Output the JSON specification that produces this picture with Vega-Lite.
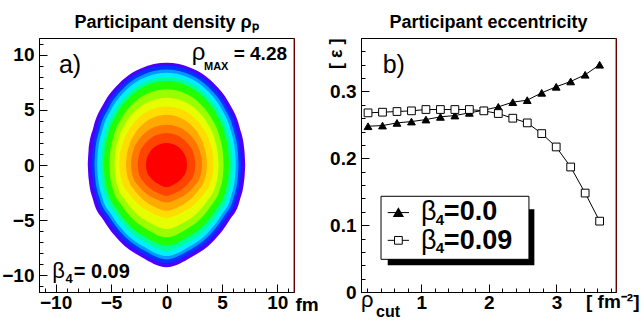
{
  "$schema": "https://vega.github.io/schema/vega-lite/v6.json",
  "background": "white",
  "padding": {"left": 1, "top": 13, "right": 0, "bottom": 0},
  "bounds": "flush",
  "spacing": 67,
  "config": {
    "font": "Liberation Sans",
    "view": {"stroke": "black", "strokeWidth": 1},
    "axis": {"domainColor": "black", "domainWidth": 1, "tickColor": "black", "tickWidth": 1, "labelColor": "black", "labelFont": "Liberation Sans", "labelFontSize": 19, "labelFontWeight": "bold", "grid": false, "titleFont": "Liberation Sans", "titleFontSize": 19, "titleFontWeight": "bold", "titleColor": "black", "labelFlush": false, "labelBound": false},
    "title": {"font": "Liberation Sans", "fontSize": 18, "fontWeight": "bold", "color": "black", "anchor": "middle", "offset": 6}
  },
  "datasets": {
    "contour": [
      {"level":1,"x":-7.1,"top":0,"bottom":0},{"level":1,"x":-7.03,"top":1.3,"bottom":-1.2},{"level":1,"x":-6.6,"top":3.4,"bottom":-3.24},{"level":1,"x":-5.68,"top":5.55,"bottom":-5.0},{"level":1,"x":-4.26,"top":7.4,"bottom":-6.85},{"level":1,"x":-2.27,"top":8.76,"bottom":-8.33},{"level":1,"x":0,"top":9.25,"bottom":-9.25},{"level":1,"x":2.27,"top":8.76,"bottom":-8.33},{"level":1,"x":4.26,"top":7.4,"bottom":-6.85},{"level":1,"x":5.68,"top":5.55,"bottom":-5.0},{"level":1,"x":6.6,"top":3.4,"bottom":-3.24},{"level":1,"x":7.03,"top":1.3,"bottom":-1.2},{"level":1,"x":7.1,"top":0,"bottom":0},
      {"level":2,"x":-6.75,"top":0,"bottom":0},{"level":2,"x":-6.68,"top":1.27,"bottom":-1.16},{"level":2,"x":-6.28,"top":3.31,"bottom":-3.12},{"level":2,"x":-5.4,"top":5.4,"bottom":-4.81},{"level":2,"x":-4.05,"top":7.2,"bottom":-6.59},{"level":2,"x":-2.16,"top":8.52,"bottom":-8.01},{"level":2,"x":0,"top":9.0,"bottom":-8.9},{"level":2,"x":2.16,"top":8.52,"bottom":-8.01},{"level":2,"x":4.05,"top":7.2,"bottom":-6.59},{"level":2,"x":5.4,"top":5.4,"bottom":-4.81},{"level":2,"x":6.28,"top":3.31,"bottom":-3.12},{"level":2,"x":6.68,"top":1.27,"bottom":-1.16},{"level":2,"x":6.75,"top":0,"bottom":0},
      {"level":3,"x":-6.5,"top":0,"bottom":0},{"level":3,"x":-6.44,"top":1.22,"bottom":-1.11},{"level":3,"x":-6.05,"top":3.18,"bottom":-2.99},{"level":3,"x":-5.2,"top":5.19,"bottom":-4.62},{"level":3,"x":-3.9,"top":6.92,"bottom":-6.33},{"level":3,"x":-2.08,"top":8.19,"bottom":-7.7},{"level":3,"x":0,"top":8.65,"bottom":-8.55},{"level":3,"x":2.08,"top":8.19,"bottom":-7.7},{"level":3,"x":3.9,"top":6.92,"bottom":-6.33},{"level":3,"x":5.2,"top":5.19,"bottom":-4.62},{"level":3,"x":6.05,"top":3.18,"bottom":-2.99},{"level":3,"x":6.44,"top":1.22,"bottom":-1.11},{"level":3,"x":6.5,"top":0,"bottom":0},
      {"level":4,"x":-6.25,"top":0,"bottom":0},{"level":4,"x":-6.19,"top":1.18,"bottom":-1.07},{"level":4,"x":-5.81,"top":3.07,"bottom":-2.89},{"level":4,"x":-5.0,"top":5.01,"bottom":-4.46},{"level":4,"x":-3.75,"top":6.68,"bottom":-6.11},{"level":4,"x":-2.0,"top":7.91,"bottom":-7.43},{"level":4,"x":0,"top":8.35,"bottom":-8.25},{"level":4,"x":2.0,"top":7.91,"bottom":-7.43},{"level":4,"x":3.75,"top":6.68,"bottom":-6.11},{"level":4,"x":5.0,"top":5.01,"bottom":-4.46},{"level":4,"x":5.81,"top":3.07,"bottom":-2.89},{"level":4,"x":6.19,"top":1.18,"bottom":-1.07},{"level":4,"x":6.25,"top":0,"bottom":0},
      {"level":5,"x":-5.95,"top":0,"bottom":0},{"level":5,"x":-5.89,"top":1.12,"bottom":-1.01},{"level":5,"x":-5.53,"top":2.93,"bottom":-2.73},{"level":5,"x":-4.76,"top":4.77,"bottom":-4.21},{"level":5,"x":-3.57,"top":6.36,"bottom":-5.77},{"level":5,"x":-1.9,"top":7.53,"bottom":-7.02},{"level":5,"x":0,"top":7.95,"bottom":-7.8},{"level":5,"x":1.9,"top":7.53,"bottom":-7.02},{"level":5,"x":3.57,"top":6.36,"bottom":-5.77},{"level":5,"x":4.76,"top":4.77,"bottom":-4.21},{"level":5,"x":5.53,"top":2.93,"bottom":-2.73},{"level":5,"x":5.89,"top":1.12,"bottom":-1.01},{"level":5,"x":5.95,"top":0,"bottom":0},
      {"level":6,"x":-5.65,"top":0,"bottom":0},{"level":6,"x":-5.59,"top":1.07,"bottom":-0.95},{"level":6,"x":-5.25,"top":2.8,"bottom":-2.56},{"level":6,"x":-4.52,"top":4.56,"bottom":-3.94},{"level":6,"x":-3.39,"top":6.08,"bottom":-5.4},{"level":6,"x":-1.81,"top":7.2,"bottom":-6.57},{"level":6,"x":0,"top":7.6,"bottom":-7.3},{"level":6,"x":1.81,"top":7.2,"bottom":-6.57},{"level":6,"x":3.39,"top":6.08,"bottom":-5.4},{"level":6,"x":4.52,"top":4.56,"bottom":-3.94},{"level":6,"x":5.25,"top":2.8,"bottom":-2.56},{"level":6,"x":5.59,"top":1.07,"bottom":-0.95},{"level":6,"x":5.65,"top":0,"bottom":0},
      {"level":7,"x":-5.15,"top":0,"bottom":0},{"level":7,"x":-5.1,"top":0.97,"bottom":-0.85},{"level":7,"x":-4.79,"top":2.52,"bottom":-2.29},{"level":7,"x":-4.12,"top":4.11,"bottom":-3.54},{"level":7,"x":-3.09,"top":5.48,"bottom":-4.85},{"level":7,"x":-1.65,"top":6.49,"bottom":-5.9},{"level":7,"x":0,"top":6.85,"bottom":-6.55},{"level":7,"x":1.65,"top":6.49,"bottom":-5.9},{"level":7,"x":3.09,"top":5.48,"bottom":-4.85},{"level":7,"x":4.12,"top":4.11,"bottom":-3.54},{"level":7,"x":4.79,"top":2.52,"bottom":-2.29},{"level":7,"x":5.1,"top":0.97,"bottom":-0.85},{"level":7,"x":5.15,"top":0,"bottom":0},
      {"level":8,"x":-4.7,"top":0,"bottom":0},{"level":8,"x":-4.65,"top":0.86,"bottom":-0.75},{"level":8,"x":-4.37,"top":2.24,"bottom":-2.03},{"level":8,"x":-3.76,"top":3.66,"bottom":-3.13},{"level":8,"x":-2.82,"top":4.88,"bottom":-4.29},{"level":8,"x":-1.5,"top":5.78,"bottom":-5.22},{"level":8,"x":0,"top":6.1,"bottom":-5.8},{"level":8,"x":1.5,"top":5.78,"bottom":-5.22},{"level":8,"x":2.82,"top":4.88,"bottom":-4.29},{"level":8,"x":3.76,"top":3.66,"bottom":-3.13},{"level":8,"x":4.37,"top":2.24,"bottom":-2.03},{"level":8,"x":4.65,"top":0.86,"bottom":-0.75},{"level":8,"x":4.7,"top":0,"bottom":0},
      {"level":9,"x":-4.25,"top":0,"bottom":0},{"level":9,"x":-4.21,"top":0.75,"bottom":-0.62},{"level":9,"x":-3.95,"top":1.95,"bottom":-1.68},{"level":9,"x":-3.4,"top":3.18,"bottom":-2.59},{"level":9,"x":-2.55,"top":4.24,"bottom":-3.55},{"level":9,"x":-1.36,"top":5.02,"bottom":-4.32},{"level":9,"x":0,"top":5.3,"bottom":-4.8},{"level":9,"x":1.36,"top":5.02,"bottom":-4.32},{"level":9,"x":2.55,"top":4.24,"bottom":-3.55},{"level":9,"x":3.4,"top":3.18,"bottom":-2.59},{"level":9,"x":3.95,"top":1.95,"bottom":-1.68},{"level":9,"x":4.21,"top":0.75,"bottom":-0.62},{"level":9,"x":4.25,"top":0,"bottom":0},
      {"level":10,"x":-3.65,"top":0,"bottom":0},{"level":10,"x":-3.61,"top":0.64,"bottom":-0.54},{"level":10,"x":-3.39,"top":1.67,"bottom":-1.45},{"level":10,"x":-2.92,"top":2.73,"bottom":-2.24},{"level":10,"x":-2.19,"top":3.64,"bottom":-3.07},{"level":10,"x":-1.17,"top":4.31,"bottom":-3.74},{"level":10,"x":0,"top":4.55,"bottom":-4.15},{"level":10,"x":1.17,"top":4.31,"bottom":-3.74},{"level":10,"x":2.19,"top":3.64,"bottom":-3.07},{"level":10,"x":2.92,"top":2.73,"bottom":-2.24},{"level":10,"x":3.39,"top":1.67,"bottom":-1.45},{"level":10,"x":3.61,"top":0.64,"bottom":-0.54},{"level":10,"x":3.65,"top":0,"bottom":0},
      {"level":11,"x":-3.2,"top":0,"bottom":0},{"level":11,"x":-3.17,"top":0.51,"bottom":-0.44},{"level":11,"x":-2.98,"top":1.34,"bottom":-1.19},{"level":11,"x":-2.56,"top":2.19,"bottom":-1.84},{"level":11,"x":-1.92,"top":2.92,"bottom":-2.52},{"level":11,"x":-1.02,"top":3.46,"bottom":-3.06},{"level":11,"x":0,"top":3.65,"bottom":-3.4},{"level":11,"x":1.02,"top":3.46,"bottom":-3.06},{"level":11,"x":1.92,"top":2.92,"bottom":-2.52},{"level":11,"x":2.56,"top":2.19,"bottom":-1.84},{"level":11,"x":2.98,"top":1.34,"bottom":-1.19},{"level":11,"x":3.17,"top":0.51,"bottom":-0.44},{"level":11,"x":3.2,"top":0,"bottom":0},
      {"level":12,"x":-2.6,"top":0,"bottom":0},{"level":12,"x":-2.57,"top":0.41,"bottom":-0.36},{"level":12,"x":-2.42,"top":1.07,"bottom":-0.98},{"level":12,"x":-2.08,"top":1.74,"bottom":-1.51},{"level":12,"x":-1.56,"top":2.32,"bottom":-2.07},{"level":12,"x":-0.83,"top":2.75,"bottom":-2.52},{"level":12,"x":0,"top":2.9,"bottom":-2.8},{"level":12,"x":0.83,"top":2.75,"bottom":-2.52},{"level":12,"x":1.56,"top":2.32,"bottom":-2.07},{"level":12,"x":2.08,"top":1.74,"bottom":-1.51},{"level":12,"x":2.42,"top":1.07,"bottom":-0.98},{"level":12,"x":2.57,"top":0.41,"bottom":-0.36},{"level":12,"x":2.6,"top":0,"bottom":0},
      {"level":13,"x":-1.85,"top":0,"bottom":0},{"level":13,"x":-1.83,"top":0.28,"bottom":-0.26},{"level":13,"x":-1.72,"top":0.74,"bottom":-0.7},{"level":13,"x":-1.48,"top":1.2,"bottom":-1.08},{"level":13,"x":-1.11,"top":1.6,"bottom":-1.48},{"level":13,"x":-0.59,"top":1.89,"bottom":-1.8},{"level":13,"x":0,"top":2.0,"bottom":-2.0},{"level":13,"x":0.59,"top":1.89,"bottom":-1.8},{"level":13,"x":1.11,"top":1.6,"bottom":-1.48},{"level":13,"x":1.48,"top":1.2,"bottom":-1.08},{"level":13,"x":1.72,"top":0.74,"bottom":-0.7},{"level":13,"x":1.83,"top":0.28,"bottom":-0.26},{"level":13,"x":1.85,"top":0,"bottom":0}
    ],
    "ecc": [
      {"rho":0.214,"eps":0.248,"series":"b00"},{"rho":0.428,"eps":0.249,"series":"b00"},{"rho":0.642,"eps":0.253,"series":"b00"},{"rho":0.856,"eps":0.255,"series":"b00"},{"rho":1.07,"eps":0.258,"series":"b00"},{"rho":1.284,"eps":0.262,"series":"b00"},{"rho":1.498,"eps":0.264,"series":"b00"},{"rho":1.712,"eps":0.268,"series":"b00"},{"rho":1.926,"eps":0.272,"series":"b00"},{"rho":2.14,"eps":0.277,"series":"b00"},{"rho":2.354,"eps":0.284,"series":"b00"},{"rho":2.568,"eps":0.287,"series":"b00"},{"rho":2.782,"eps":0.298,"series":"b00"},{"rho":2.996,"eps":0.307,"series":"b00"},{"rho":3.21,"eps":0.315,"series":"b00"},{"rho":3.424,"eps":0.325,"series":"b00"},{"rho":3.638,"eps":0.34,"series":"b00"},
      {"rho":0.214,"eps":0.268,"series":"b09"},{"rho":0.428,"eps":0.269,"series":"b09"},{"rho":0.642,"eps":0.27,"series":"b09"},{"rho":0.856,"eps":0.271,"series":"b09"},{"rho":1.07,"eps":0.273,"series":"b09"},{"rho":1.284,"eps":0.273,"series":"b09"},{"rho":1.498,"eps":0.273,"series":"b09"},{"rho":1.712,"eps":0.273,"series":"b09"},{"rho":1.926,"eps":0.271,"series":"b09"},{"rho":2.14,"eps":0.267,"series":"b09"},{"rho":2.354,"eps":0.26,"series":"b09"},{"rho":2.568,"eps":0.253,"series":"b09"},{"rho":2.782,"eps":0.237,"series":"b09"},{"rho":2.996,"eps":0.217,"series":"b09"},{"rho":3.21,"eps":0.187,"series":"b09"},{"rho":3.424,"eps":0.148,"series":"b09"},{"rho":3.638,"eps":0.106,"series":"b09"}
    ]
  },
  "hconcat": [
    {
      "width": 255,
      "height": 254,
      "title": "Participant density ρₚ",
      "resolve": {"axis": {"x": "independent", "y": "independent"}},
      "layer": [
        {
          "layer": [
            {
              "data": {"name": "contour"},
              "mark": {"type": "area", "interpolate": "monotone", "orient": "vertical"},
              "encoding": {
                "x": {"field": "x", "type": "quantitative", "scale": {"domain": [-11.5, 11.5], "nice": false, "zero": false},
                  "axis": {"values": [-10,-5,0,5,10], "tickSize": -8, "labelPadding": 9, "labelOverlap": false,
                    "title": "fm", "titleX": 256, "titleY": 18, "titleAlign": "left", "titleBaseline": "alphabetic", "titleAngle": 0}},
                "y": {"field": "top", "type": "quantitative", "scale": {"domain": [-11.5, 11.5], "nice": false, "zero": false},
                  "axis": {"values": [-10,-5,0,5,10], "tickSize": -8, "labelPadding": 13, "labelOverlap": false, "title": null}},
                "y2": {"field": "bottom"},
                "color": {"field": "level", "type": "ordinal", "legend": null,
                  "scale": {"domain": [1,2,3,4,5,6,7,8,9,10,11,12,13],
                    "range": ["#4b00ff","#0033ff","#0099ff","#00eeff","#00ff99","#22ff00","#99ff00","#e5ff00","#ffdd00","#ffaa00","#ff7700","#ff4400","#ff0000"]}}
              }
            },
            {"data": {"values": [{}]}, "mark": {"type": "rule", "color": "#cc0000", "strokeWidth": 1}, "encoding": {"x": {"datum": 11.5}}},
            {"data": {"values": [{}]}, "mark": {"type": "text", "text": "a)", "fontSize": 25, "align": "left", "baseline": "alphabetic", "color": "black"}, "encoding": {"x": {"datum": -9.7}, "y": {"datum": 8.3}}},
            {"data": {"values": [{}]}, "mark": {"type": "text", "text": "ρ", "fontSize": 24, "align": "left", "baseline": "alphabetic", "color": "black"}, "encoding": {"x": {"datum": 2.27}, "y": {"datum": 9.48}}},
            {"data": {"values": [{}]}, "mark": {"type": "text", "text": "MAX", "fontSize": 11, "fontWeight": "bold", "align": "left", "baseline": "alphabetic", "color": "black"}, "encoding": {"x": {"datum": 3.38}, "y": {"datum": 8.6}}},
            {"data": {"values": [{}]}, "mark": {"type": "text", "text": "= 4.28", "fontSize": 19, "fontWeight": "bold", "align": "right", "baseline": "alphabetic", "color": "black"}, "encoding": {"x": {"datum": 10.87}, "y": {"datum": 9.48}}},
            {"data": {"values": [{}]}, "mark": {"type": "text", "text": "β", "fontSize": 22, "align": "left", "baseline": "alphabetic", "color": "black"}, "encoding": {"x": {"datum": -10.3}, "y": {"datum": -10.24}}},
            {"data": {"values": [{}]}, "mark": {"type": "text", "text": "4", "fontSize": 13, "fontWeight": "bold", "align": "left", "baseline": "alphabetic", "color": "black"}, "encoding": {"x": {"datum": -9.1}, "y": {"datum": -10.7}}},
            {"data": {"values": [{}]}, "mark": {"type": "text", "text": "= 0.09", "fontSize": 20, "fontWeight": "bold", "align": "left", "baseline": "alphabetic", "color": "black"}, "encoding": {"x": {"datum": -8.37}, "y": {"datum": -10.24}}}
          ]
        },
        {
          "data": {"values": [{}]},
          "mark": {"type": "point", "opacity": 0},
          "encoding": {
            "x": {"datum": 0, "axis": {"orient": "bottom", "values": [-11,-9,-8,-7,-6,-4,-3,-2,-1,1,2,3,4,6,7,8,9,11], "labels": false, "domain": false, "tickSize": -4, "title": null, "grid": false}},
            "y": {"datum": 0, "axis": {"orient": "left", "values": [-11,-9,-8,-7,-6,-4,-3,-2,-1,1,2,3,4,6,7,8,9,11], "labels": false, "domain": false, "tickSize": -4, "title": null, "grid": false}}
          }
        }
      ]
    },
    {
      "width": 255,
      "height": 254,
      "title": "Participant eccentricity",
      "resolve": {"axis": {"x": "independent", "y": "independent"}},
      "layer": [
        {
          "layer": [
            {
              "data": {"name": "ecc"},
              "mark": {"type": "line", "color": "black", "strokeWidth": 1},
              "encoding": {
                "x": {"field": "rho", "type": "quantitative", "scale": {"domain": [0.11, 3.88], "nice": false, "zero": false},
                  "axis": {"values": [1, 2, 3], "format": "~g", "tickSize": -8, "labelPadding": 9, "labelOverlap": false,
                    "title": "[ fm⁻²]", "titleX": 278, "titleY": 15, "titleAlign": "right", "titleBaseline": "alphabetic", "titleAngle": 0}},
                "y": {"field": "eps", "type": "quantitative", "scale": {"domain": [0, 0.38], "nice": false, "zero": false},
                  "axis": {"values": [0, 0.1, 0.2, 0.3], "format": "~g", "tickSize": -8, "labelPadding": 13, "labelOverlap": false,
                    "title": "[ ε ]", "titleX": -25, "titleY": 0, "titleAlign": "right", "titleAngle": 270, "titleBaseline": "middle", "titleFontSize": 18}},
                "detail": {"field": "series", "type": "nominal"}
              }
            },
            {
              "data": {"name": "ecc"},
              "mark": {"type": "point", "filled": true, "stroke": "black", "strokeWidth": 1, "opacity": 1, "size": 60},
              "encoding": {
                "x": {"field": "rho", "type": "quantitative"},
                "y": {"field": "eps", "type": "quantitative"},
                "shape": {"field": "series", "type": "nominal", "legend": null, "scale": {"domain": ["b00", "b09"], "range": ["triangle-up", "square"]}},
                "fill": {"field": "series", "type": "nominal", "legend": null, "scale": {"domain": ["b00", "b09"], "range": ["black", "white"]}}
              }
            },
            {"data": {"values": [{}]}, "mark": {"type": "rule", "color": "#cc0000", "strokeWidth": 1}, "encoding": {"x": {"datum": 3.88}}},
            {"data": {"values": [{}]}, "mark": {"type": "rect", "color": "black"}, "encoding": {"x": {"datum": 0.505}, "x2": {"datum": 2.673}, "y": {"datum": 0.1237}, "y2": {"datum": 0.0399}}},
            {"data": {"values": [{}]}, "mark": {"type": "rect", "fill": "white", "stroke": "black", "strokeWidth": 1}, "encoding": {"x": {"datum": 0.406}, "x2": {"datum": 2.593}, "y": {"datum": 0.1432}, "y2": {"datum": 0.0489}}},
            {"data": {"values": [{}]}, "mark": {"type": "rule", "color": "black", "strokeWidth": 1}, "encoding": {"x": {"datum": 0.505}, "x2": {"datum": 0.82}, "y": {"datum": 0.1188}}},
            {"data": {"values": [{}]}, "mark": {"type": "rule", "color": "black", "strokeWidth": 1}, "encoding": {"x": {"datum": 0.505}, "x2": {"datum": 0.82}, "y": {"datum": 0.0773}}},
            {"data": {"values": [{}]}, "mark": {"type": "point", "shape": "triangle-up", "filled": true, "fill": "black", "stroke": "black", "size": 60, "opacity": 1}, "encoding": {"x": {"datum": 0.663}, "y": {"datum": 0.1188}}},
            {"data": {"values": [{}]}, "mark": {"type": "point", "shape": "square", "filled": true, "fill": "white", "stroke": "black", "strokeWidth": 1, "size": 60, "opacity": 1}, "encoding": {"x": {"datum": 0.663}, "y": {"datum": 0.0773}}},
            {"data": {"values": [{}]}, "mark": {"type": "text", "text": "β", "fontSize": 27, "align": "left", "baseline": "alphabetic", "color": "black"}, "encoding": {"x": {"datum": 0.997}, "y": {"datum": 0.107}}},
            {"data": {"values": [{}]}, "mark": {"type": "text", "text": "4", "fontSize": 15, "fontWeight": "bold", "align": "left", "baseline": "alphabetic", "color": "black"}, "encoding": {"x": {"datum": 1.215}, "y": {"datum": 0.1}}},
            {"data": {"values": [{}]}, "mark": {"type": "text", "text": "=0.0", "fontSize": 27, "fontWeight": "bold", "align": "left", "baseline": "alphabetic", "color": "black"}, "encoding": {"x": {"datum": 1.335}, "y": {"datum": 0.107}}},
            {"data": {"values": [{}]}, "mark": {"type": "text", "text": "β", "fontSize": 27, "align": "left", "baseline": "alphabetic", "color": "black"}, "encoding": {"x": {"datum": 0.997}, "y": {"datum": 0.065}}},
            {"data": {"values": [{}]}, "mark": {"type": "text", "text": "4", "fontSize": 15, "fontWeight": "bold", "align": "left", "baseline": "alphabetic", "color": "black"}, "encoding": {"x": {"datum": 1.215}, "y": {"datum": 0.058}}},
            {"data": {"values": [{}]}, "mark": {"type": "text", "text": "=0.09", "fontSize": 27, "fontWeight": "bold", "align": "left", "baseline": "alphabetic", "color": "black"}, "encoding": {"x": {"datum": 1.335}, "y": {"datum": 0.065}}},
            {"data": {"values": [{}]}, "mark": {"type": "text", "text": "b)", "fontSize": 25, "align": "left", "baseline": "alphabetic", "color": "black"}, "encoding": {"x": {"datum": 0.43}, "y": {"datum": 0.327}}},
            {"data": {"values": [{}]}, "mark": {"type": "text", "text": "ρ", "fontSize": 22, "align": "left", "baseline": "alphabetic", "color": "black"}, "encoding": {"x": {"datum": 0.11}, "y": {"datum": -0.023}}},
            {"data": {"values": [{}]}, "mark": {"type": "text", "text": "cut", "fontSize": 16, "fontWeight": "bold", "align": "left", "baseline": "alphabetic", "color": "black"}, "encoding": {"x": {"datum": 0.332}, "y": {"datum": -0.0374}}}
          ]
        },
        {
          "data": {"values": [{}]},
          "mark": {"type": "point", "opacity": 0},
          "encoding": {
            "x": {"datum": 1, "axis": {"orient": "bottom", "values": [0.2,0.4,0.6,0.8,1.2,1.4,1.6,1.8,2.2,2.4,2.6,2.8,3.2,3.4,3.6,3.8], "labels": false, "domain": false, "tickSize": -4, "title": null, "grid": false}},
            "y": {"datum": 0.1, "axis": {"orient": "left", "values": [0.02,0.04,0.06,0.08,0.12,0.14,0.16,0.18,0.22,0.24,0.26,0.28,0.32,0.34,0.36,0.38], "labels": false, "domain": false, "tickSize": -4, "title": null, "grid": false}}
          }
        }
      ]
    }
  ]
}
